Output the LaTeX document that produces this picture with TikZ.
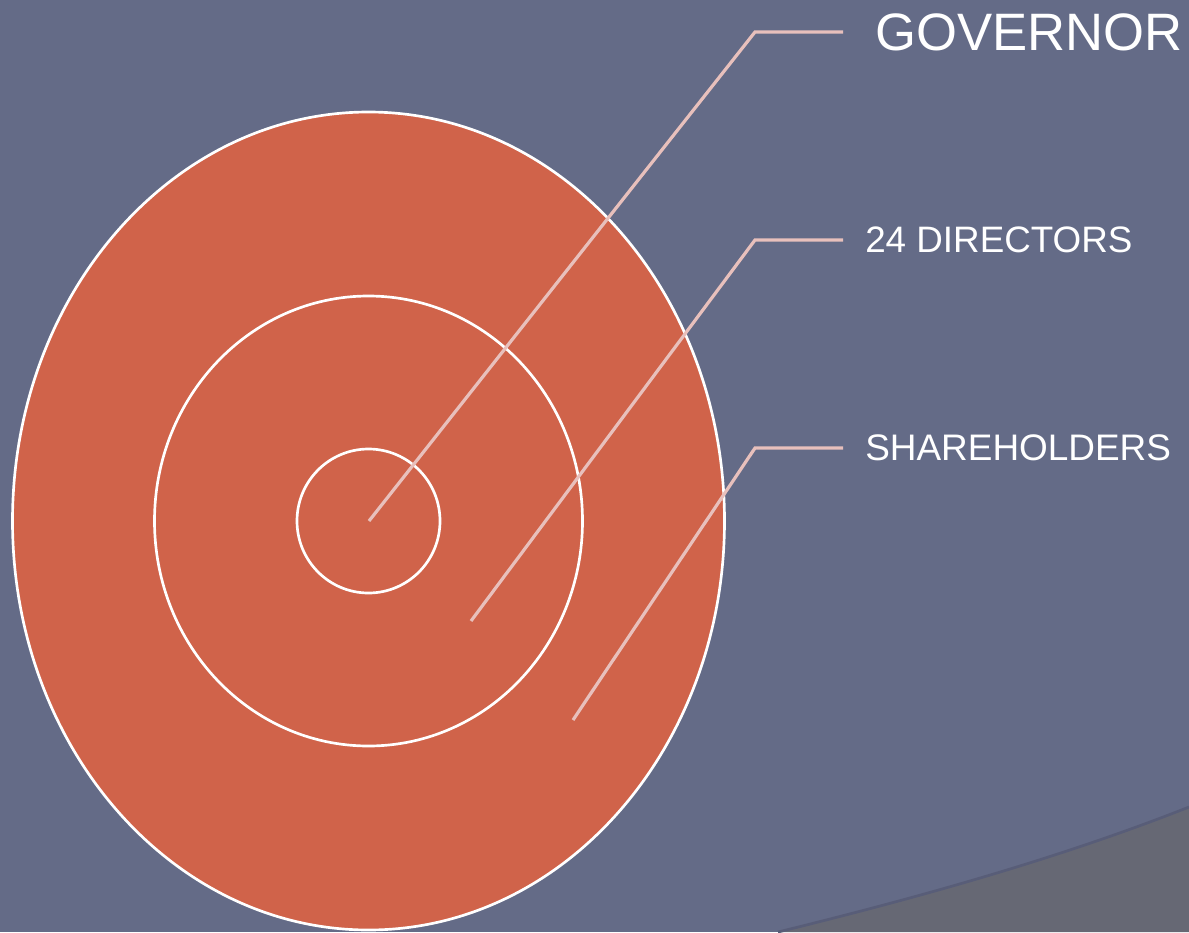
\documentclass[tikz,border=0pt]{standalone}
\usepackage{fontspec}
\setmainfont{Liberation Sans}
\usepackage{tikz}

\definecolor{slate}{RGB}{100,107,135}
\definecolor{floorgrey}{RGB}{102,104,116}
\definecolor{rimshade}{RGB}{88,93,120}
\definecolor{target}{RGB}{208,99,74}
\definecolor{leader}{RGB}{232,192,188}

\tikzset{
  ring/.style={draw=white, line width=2pt, fill=target},
  pointer/.style={draw=leader, line width=2.4pt},
  tag/.style={anchor=west, inner sep=0pt, text=white},
}

\begin{document}
\begin{tikzpicture}[x=0.75pt,y=0.75pt,yscale=-1,xscale=1]
\useasboundingbox (0,0) rectangle (1189,932);

%Background
\fill[slate] (0,0) rectangle (1189,932);
%Shape: grey floor bottom right
\fill[floorgrey] (778,932) .. controls (900,902) and (1050,862) .. (1189,807) -- (1189,932) -- cycle;
\draw[rimshade, line width=2pt] (778,932) .. controls (900,902) and (1050,862) .. (1189,807);

%Shape: target rings
\coordinate (centre) at (368.5,521);
\draw[ring] (centre) ellipse [x radius=356, y radius=409];
\draw[ring] (centre) ellipse [x radius=214, y radius=225];
\draw[ring] (centre) ellipse [x radius=71.5, y radius=72];

% Pointer ends
\coordinate (govIn) at (369,521);
\coordinate (govBend) at (755,32);
\coordinate (govEnd) at (843,32);
\coordinate (dirIn) at (471,621);
\coordinate (dirBend) at (755,240);
\coordinate (dirEnd) at (843,240);
\coordinate (shIn) at (573,720);
\coordinate (shBend) at (755,448);
\coordinate (shEnd) at (843,448);

% Text Node
\node (governor) [tag, font=\fontsize{39.5pt}{40pt}\selectfont] at (875,32) {GOVERNOR};
% Text Node
\node (directors) [tag, font=\fontsize{27.6pt}{28pt}\selectfont] at (865,240) {24 DIRECTORS};
% Text Node
\node (holders) [tag, font=\fontsize{27.7pt}{28pt}\selectfont] at (865,448) {SHAREHOLDERS};

%Straight Lines
\draw[pointer] (govIn) -- (govBend) -- (govEnd);
\draw[pointer] (dirIn) -- (dirBend) -- (dirEnd);
\draw[pointer] (shIn) -- (shBend) -- (shEnd);

\end{tikzpicture}
\end{document}
